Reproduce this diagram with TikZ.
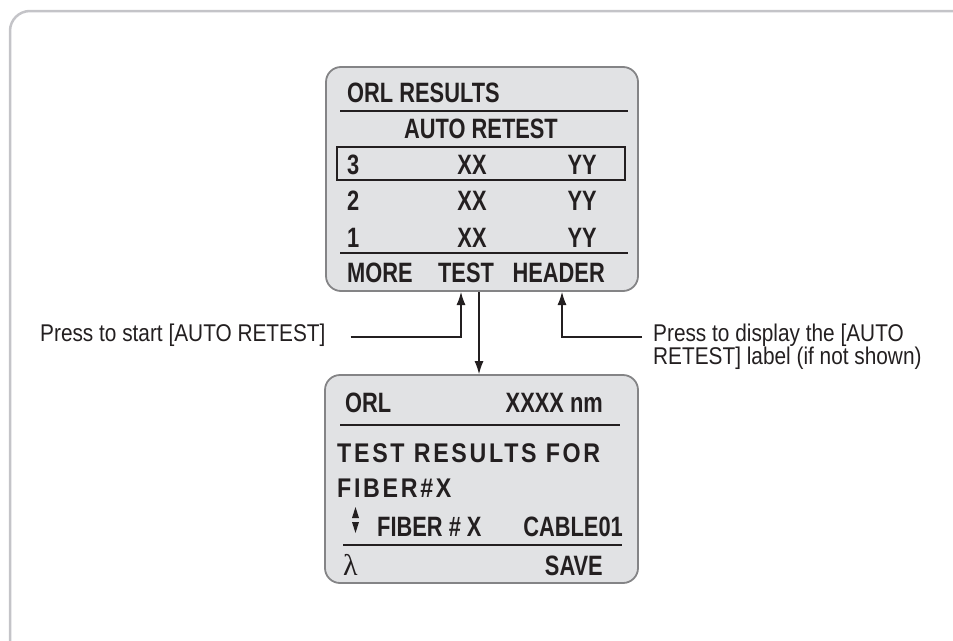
\documentclass[tikz,border=0pt]{standalone}
\usepackage{fontspec}
\setmainfont{Liberation Sans}
\newfontfamily\lcdfont[FakeStretch=0.78]{Liberation Sans Bold}
\newfontfamily\lcdwide[FakeStretch=0.86, LetterSpace=10]{Liberation Sans Bold}
\newfontfamily\notefont[FakeStretch=0.86]{Liberation Sans}
\newfontfamily\greekfont{Liberation Serif}
\usetikzlibrary{arrows.meta,positioning,calc}

\definecolor{framegray}{RGB}{196,196,200}
\definecolor{screenfill}{RGB}{225,226,228}
\definecolor{screenedge}{RGB}{132,132,134}
\definecolor{ink}{RGB}{35,31,32}

\tikzset{
  screen/.style={draw=screenedge, line width=1.8pt, fill=screenfill, rounded corners=15pt, inner sep=0pt},
  lcd/.style={font=\lcdfont\fontsize{28}{30}\selectfont, inner sep=0pt, text=ink},
  lcdw/.style={font=\lcdwide\fontsize{27}{30}\selectfont, inner sep=0pt, text=ink},
  note/.style={font=\notefont\fontsize{24.2}{23}\selectfont, inner sep=0pt, text=ink, align=left},
  sep/.style={draw=ink, line width=1.5pt},
  pointer/.style={draw=ink, line width=1.1pt, -{Latex[length=13pt,width=9pt]}},
}

\begin{document}
\begin{tikzpicture}[x=1pt, y=-1pt]
  \useasboundingbox (0,0) rectangle (953,640);
  \clip (0,0) rectangle (953,640);
  % outer frame
  \draw[framegray, line width=2.5pt, rounded corners=20pt] (10,11) rectangle (980,670);

  % results screen
  \node (results) [screen, minimum width=312pt, minimum height=224pt] at (482,179) {};
  \node (title) [lcd, anchor=base west] at (347,102) {ORL RESULTS};
  \draw[sep] (340,111) -- (628,111);
  \node (mode) [lcd, anchor=base] at (481,138) {AUTO RETEST};
  \draw[ink, line width=1.8pt] (337,147) rectangle (625,180);
  \node (n3) [lcd, anchor=base west] at (347,174) {3};
  \node (x3) [lcd, anchor=base] at (472,174) {XX};
  \node (y3) [lcd, anchor=base east] at (597,174) {YY};
  \node (n2) [lcd, anchor=base west] at (347,210) {2};
  \node (x2) [lcd, anchor=base] at (472,210) {XX};
  \node (y2) [lcd, anchor=base east] at (597,210) {YY};
  \node (n1) [lcd, anchor=base west] at (347,247) {1};
  \node (x1) [lcd, anchor=base] at (472,247) {XX};
  \node (y1) [lcd, anchor=base east] at (597,247) {YY};
  \draw[sep] (340,253) -- (628,253);
  \node (more) [lcd, anchor=base west] at (347,282) {MORE};
  \node (test) [lcd, anchor=base] at (466,282) {TEST};
  \node (header) [lcd, anchor=base east] at (605,282) {HEADER};

  % fiber screen
  \node (fiber) [screen, minimum width=313pt, minimum height=208pt] at (481.5,479) {};
  \node (orl) [lcd, anchor=base west] at (345,412) {ORL};
  \node (wave) [lcd, anchor=base east] at (603,412) {XXXX nm};
  \draw[sep] (340,425) -- (620,425);
  \node (msg1) [lcdw, anchor=base west] at (337,462) {TEST RESULTS FOR};
  \node (msg2) [lcdw, anchor=base west] at (337,497) {FIBER\#X};
  \fill[ink] (352,518) -- (355.5,507) -- (359,518) -- cycle;
  \fill[ink] (352,522) -- (359,522) -- (355.5,533) -- cycle;
  \node (fibno) [lcd, anchor=base west] at (377,536) {FIBER \# X};
  \node (cable) [lcd, anchor=base east] at (623,536) {CABLE01};
  \draw[sep] (343,545) -- (622,545);
  \node (lambda) [lcd, font=\greekfont\fontsize{30}{30}\selectfont, anchor=base west] at (343,575) {λ};
  \node (save) [lcd, anchor=base east] at (603,575) {SAVE};

  % notes and pointers
  \node (startnote) [note, anchor=base west] at (40,341) {Press to start [AUTO RETEST]};
  \node (headnote) [note, anchor=base west] at (653,364) {Press to display the [AUTO\\RETEST] label (if not shown)};
  \coordinate (testkey) at (461,292);
  \coordinate (headkey) at (562,292);
  \draw[pointer] ([xshift=25pt]startnote.east |- 0,337) -| (testkey);
  \draw[pointer] (479,292) -- (fiber.north -| 479,0);
  \draw[pointer] (642,337) -| (headkey);
\end{tikzpicture}
\end{document}
